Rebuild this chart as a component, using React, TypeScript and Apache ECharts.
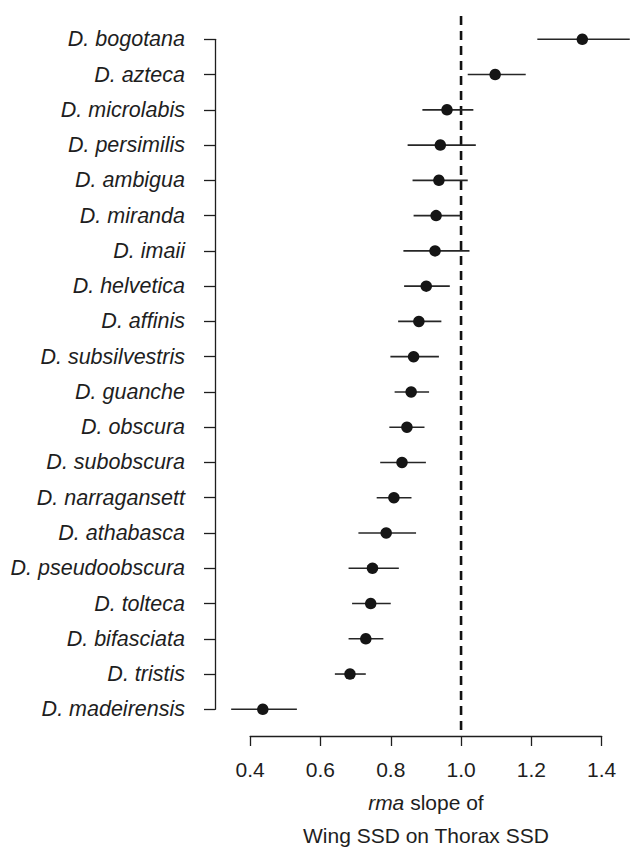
import React, { useEffect, useRef } from "react";
import * as echarts from "echarts";

const species = [
  "D. bogotana", "D. azteca", "D. microlabis", "D. persimilis", "D. ambigua",
  "D. miranda", "D. imaii", "D. helvetica", "D. affinis", "D. subsilvestris",
  "D. guanche", "D. obscura", "D. subobscura", "D. narragansett", "D. athabasca",
  "D. pseudoobscura", "D. tolteca", "D. bifasciata", "D. tristis", "D. madeirensis",
];
const estimates = [1.345, 1.097, 0.96, 0.941, 0.937, 0.929, 0.926, 0.901, 0.88, 0.865, 0.858, 0.846, 0.832, 0.809, 0.787, 0.748, 0.743, 0.729, 0.684, 0.436];
const lower = [1.217, 1.019, 0.89, 0.848, 0.862, 0.865, 0.836, 0.838, 0.821, 0.799, 0.811, 0.796, 0.77, 0.76, 0.708, 0.68, 0.69, 0.68, 0.641, 0.346];
const upper = [1.48, 1.184, 1.035, 1.042, 1.019, 1.0, 1.024, 0.968, 0.944, 0.937, 0.909, 0.896, 0.9, 0.859, 0.872, 0.823, 0.8, 0.779, 0.729, 0.533];
const referenceSlope = 1.0;
const tickMin = 0.4;
const tickMax = 1.4;
const tickStep = 0.2;

const FONT = "'Liberation Sans', Arial, Helvetica, sans-serif";
const INK = "#1e1e1e";

export default function App() {
  const ref = useRef<HTMLDivElement>(null);
  useEffect(() => {
    if (!ref.current) return;
    const chart = echarts.init(ref.current, undefined, { renderer: "svg" });
    const pxPerUnit = 351.5;
    const plotMin = 0.3;
    const plotMax = 1.48;
    const plotLeft = 215;
    const plotWidth = (plotMax - plotMin) * pxPerUnit;
    const axisLeft = plotLeft + (tickMin - plotMin) * pxPerUnit;
    const axisWidth = (tickMax - tickMin) * pxPerUnit;

    const option: any = {
      animation: false,
      backgroundColor: "#ffffff",
      textStyle: { fontFamily: FONT },
      grid: [
        { left: plotLeft, top: 39.3, width: plotWidth, height: 670 },
        { left: axisLeft, top: 735, width: axisWidth, height: 1 },
        { left: plotLeft, top: 12, width: plotWidth, height: 718 },
      ],
      xAxis: [
        { gridIndex: 0, type: "value", min: plotMin, max: plotMax, show: false },
        {
          gridIndex: 1,
          type: "value",
          min: tickMin,
          max: tickMax,
          interval: tickStep,
          position: "bottom",
          axisLine: { show: true, lineStyle: { color: INK, width: 1.3 } },
          axisTick: { show: true, length: 10, lineStyle: { color: INK, width: 1.3 } },
          splitLine: { show: false },
          axisLabel: {
            margin: 23,
            fontSize: 21,
            color: INK,
            fontFamily: FONT,
            formatter: (v: number) => v.toFixed(1),
          },
          name: "{i|rma} slope of\nWing SSD on Thorax SSD",
          nameLocation: "middle",
          nameGap: 50,
          nameTextStyle: {
            fontSize: 21,
            color: INK,
            fontFamily: FONT,
            lineHeight: 33,
            rich: {
              i: { fontStyle: "italic", fontSize: 21, color: INK, fontFamily: FONT, lineHeight: 33 },
            },
          },
        },
        { gridIndex: 2, type: "value", min: plotMin, max: plotMax, show: false },
      ],
      yAxis: [
        {
          gridIndex: 0,
          type: "category",
          data: species,
          inverse: true,
          boundaryGap: false,
          axisLine: { show: true, lineStyle: { color: INK, width: 1.3 } },
          axisTick: { show: true, length: 11, interval: 0, lineStyle: { color: INK, width: 1.3 } },
          axisLabel: {
            interval: 0,
            margin: 30,
            fontSize: 21.5,
            fontStyle: "italic",
            color: INK,
            fontFamily: FONT,
          },
          splitLine: { show: false },
        },
        { gridIndex: 1, type: "value", min: 0, max: 1, show: false },
        { gridIndex: 2, type: "value", min: 0, max: 1, show: false },
      ],
      series: [
        {
          type: "line",
          xAxisIndex: 2,
          yAxisIndex: 2,
          data: [[referenceSlope, 0], [referenceSlope, 1]],
          symbol: "none",
          lineStyle: { color: "#111", width: 2.6, type: [9, 6] },
          z: 1,
        },
        {
          type: "custom",
          xAxisIndex: 0,
          yAxisIndex: 0,
          data: species.map((_, i) => [lower[i], upper[i], i]),
          renderItem: (params: any, api: any) => {
            const a = api.coord([api.value(0), api.value(2)]);
            const b = api.coord([api.value(1), api.value(2)]);
            return {
              type: "line",
              shape: { x1: a[0], y1: a[1], x2: b[0], y2: b[1] },
              style: { stroke: "#262626", lineWidth: 1.6 },
            };
          },
          z: 2,
        },
        {
          type: "scatter",
          xAxisIndex: 0,
          yAxisIndex: 0,
          data: species.map((_, i) => [estimates[i], i]),
          symbol: "circle",
          symbolSize: 11.5,
          itemStyle: { color: "#151515", opacity: 1 },
          z: 3,
        },
        { type: "scatter", xAxisIndex: 1, yAxisIndex: 1, data: [] },
      ],
    };
    chart.setOption(option);
    return () => chart.dispose();
  }, []);
  return (
    <div
      ref={ref}
      style={{ position: "fixed", left: 0, top: 0, width: 630, height: 855, background: "#fff" }}
    />
  );
}
